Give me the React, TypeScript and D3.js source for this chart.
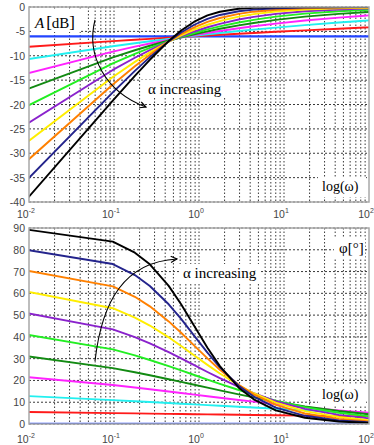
import React from 'react'
import * as d3 from 'd3'

// sample frequencies (rad/s) shared by every curve
const freq = [0.0088, 0.0968, 0.176, 0.264, 0.44, 0.616, 0.88, 1.257, 1.76, 2.933, 4.4, 8.0, 17.6, 44, 88, 100]

// magnitude A [dB], one array per alpha (0 .. 1)
const magA00 = [-6.02, -6.02, -6.02, -6.02, -6.02, -6.02, -6.02, -6.02, -6.02, -6.02, -6.02, -6.02, -6.02, -6.02, -6.02, -6.02]
const magA01 = [-8.22, -7.0, -6.72, -6.53, -6.3, -6.15, -5.99, -5.84, -5.7, -5.48, -5.32, -5.08, -4.79, -4.46, -4.22, -4.18]
const magA02 = [-10.82, -8.05, -7.43, -7.02, -6.54, -6.23, -5.91, -5.61, -5.34, -4.93, -4.63, -4.22, -3.71, -3.18, -2.82, -2.75]
const magA03 = [-13.79, -9.15, -8.14, -7.49, -6.73, -6.26, -5.78, -5.33, -4.92, -4.35, -3.95, -3.4, -2.76, -2.17, -1.79, -1.72]
const magA04 = [-17.08, -10.32, -8.87, -7.95, -6.88, -6.23, -5.59, -4.99, -4.47, -3.77, -3.28, -2.65, -1.98, -1.41, -1.08, -1.02]
const magA05 = [-20.61, -11.57, -9.62, -8.4, -6.99, -6.15, -5.33, -4.6, -3.98, -3.17, -2.63, -1.98, -1.36, -0.86, -0.61, -0.56]
const magA06 = [-24.33, -12.91, -10.41, -8.84, -7.06, -6.01, -5.02, -4.15, -3.45, -2.57, -2.02, -1.41, -0.87, -0.5, -0.33, -0.3]
const magA07 = [-28.16, -14.35, -11.25, -9.3, -7.09, -5.81, -4.64, -3.64, -2.88, -1.98, -1.46, -0.93, -0.52, -0.26, -0.16, -0.14]
const magA08 = [-32.07, -15.89, -12.14, -9.77, -7.08, -5.55, -4.18, -3.07, -2.26, -1.4, -0.96, -0.55, -0.27, -0.13, -0.07, -0.06]
const magA09 = [-36.02, -17.52, -13.11, -10.28, -7.05, -5.23, -3.64, -2.44, -1.63, -0.87, -0.53, -0.26, -0.11, -0.05, -0.02, -0.01]
const magA10 = [-40.0, -19.22, -14.15, -10.83, -6.99, -4.83, -3.01, -1.73, -0.97, -0.37, -0.17, -0.05, -0.01, 0, 0, 0]

// phase [deg]
const phA00 = [0, 0, 0, 0, 0, 0, 0, 0, 0, 0, 0, 0, 0, 0, 0, 0]
const phA01 = [5.52, 4.99, 4.86, 4.77, 4.65, 4.58, 4.5, 4.42, 4.35, 4.23, 4.14, 4.01, 3.83, 3.63, 3.48, 3.45]
const phA02 = [12.9, 10.97, 10.45, 10.09, 9.63, 9.32, 9.0, 8.68, 8.37, 7.91, 7.55, 7.03, 6.36, 5.62, 5.1, 5.0]
const phA03 = [21.68, 17.89, 16.75, 15.96, 14.92, 14.24, 13.5, 12.76, 12.08, 11.04, 10.25, 9.11, 7.72, 6.28, 5.32, 5.14]
const phA04 = [31.28, 25.68, 23.78, 22.39, 20.56, 19.33, 18.0, 16.67, 15.44, 13.61, 12.22, 10.32, 8.11, 6.0, 4.72, 4.48]
const phA05 = [41.22, 34.25, 31.49, 29.4, 26.57, 24.61, 22.5, 20.39, 18.43, 15.6, 13.51, 10.75, 7.77, 5.19, 3.78, 3.52]
const phA06 = [51.18, 43.46, 39.88, 37.0, 32.97, 30.11, 27.0, 23.89, 21.03, 17.0, 14.12, 10.54, 6.97, 4.2, 2.82, 2.57]
const phA07 = [61.0, 53.17, 48.87, 45.21, 39.8, 35.85, 31.5, 27.15, 23.2, 17.79, 14.13, 9.83, 5.92, 3.21, 2.0, 1.78]
const phA08 = [70.64, 63.22, 58.41, 54.02, 47.12, 41.88, 36.0, 30.12, 24.88, 17.98, 13.59, 8.78, 4.82, 2.34, 1.36, 1.18]
const phA09 = [80.11, 73.45, 68.39, 63.39, 54.97, 48.24, 40.5, 32.76, 26.03, 17.61, 12.61, 7.55, 3.77, 1.66, 0.89, 0.75]
const phA10 = [89.43, 83.72, 78.69, 73.3, 63.43, 55.01, 45.0, 34.99, 26.57, 16.7, 11.31, 6.28, 2.86, 1.15, 0.57, 0.46]

const colors = ['#2244ff', '#ff1a1a', '#22f0f0', '#ff22ff', '#128a12', '#22ee22', '#8a22cc', '#ffee00', '#ff8000', '#24248c', '#000000']
const magSeries = [magA00, magA01, magA02, magA03, magA04, magA05, magA06, magA07, magA08, magA09, magA10]
const phSeries = [phA00, phA01, phA02, phA03, phA04, phA05, phA06, phA07, phA08, phA09, phA10]

const magTicks = [0, -5, -10, -15, -20, -25, -30, -35, -40]
const phTicks = [0, 10, 20, 30, 40, 50, 60, 70, 80, 90]
const decadeExps = ['-2', '-1', '0', '1', '2']

const L = 29
const R = 369
const x = d3.scaleLog().domain([0.01, 100]).range([L, R])
const yMag = d3.scaleLinear().domain([-40, 0]).range([202, 7])
const yPh = d3.scaleLinear().domain([0, 90]).range([424, 228])

const minorFreqs: number[] = []
for (let e = -2; e < 2; e++) for (let m = 1; m < 10; m++) minorFreqs.push(m * Math.pow(10, e))

const tickFont = '"Liberation Sans", Arial, sans-serif'
const serif = '"Liberation Serif", "Times New Roman", serif'

function Panel({ id, y, ticks, series, labelY }: {
  id: string
  y: d3.ScaleLinear<number, number>
  ticks: number[]
  series: number[][]
  labelY: number
}) {
  const [b, t] = y.range()
  const line = d3.line<number>().x((_, i) => x(freq[i])).y(d => y(d))
  return (
    <g>
      <defs>
        <clipPath id={id}>
          <rect x={L} y={t} width={R - L} height={b - t} />
        </clipPath>
      </defs>
      <rect x={L} y={t} width={R - L} height={b - t} fill="#fff" />
      {minorFreqs.slice(1).map((f, i) => (
        <line key={'v' + i} x1={x(f)} x2={x(f)} y1={t} y2={b} stroke="#3a3a3a" strokeWidth={1} strokeDasharray="1.5,2" />
      ))}
      {ticks.map(v => (
        <line key={'h' + v} x1={L} x2={R} y1={y(v)} y2={y(v)} stroke="#3a3a3a" strokeWidth={1} strokeDasharray="2,2" />
      ))}
      <g clipPath={`url(#${id})`}>
        {series.map((s, k) => (
          <path key={k} d={line(s) || ''} fill="none" stroke={colors[k]} strokeWidth={k === 0 ? 2.4 : 1.9} strokeLinejoin="round" />
        ))}
      </g>
      <rect x={L} y={t} width={R - L} height={b - t} fill="none" stroke="#a8a8a8" strokeWidth={1.5} />
      {ticks.map(v => (
        <text key={'t' + v} x={25} y={y(v) + 4} textAnchor="end" fontSize={10.5} fontFamily={tickFont} fill="#454545">{v}</text>
      ))}
      {decadeExps.map(e => (
        <text key={'x' + e} x={x(Math.pow(10, +e)) - 3} y={labelY} textAnchor="middle" fontSize={10.5} fontFamily={tickFont} fill="#454545">
          10<tspan dy={-5} fontSize={7}>{e}</tspan>
        </text>
      ))}
    </g>
  )
}

export default function App() {
  return (
    <svg width={374} height={445} style={{ position: 'absolute', left: 0, top: 0, background: '#fff' }}>
      <defs>
        <marker id="arr" viewBox="0 0 10 10" refX={9} refY={5} markerWidth={7} markerHeight={7} orient="auto">
          <path d="M1,1 L9,5 L1,9" fill="none" stroke="#000" strokeWidth={1.5} />
        </marker>
      </defs>
      <Panel id="clipMag" y={yMag} ticks={magTicks} series={magSeries} labelY={218} />
      <Panel id="clipPh" y={yPh} ticks={phTicks} series={phSeries} labelY={443} />

      {/* top annotations */}
      <rect x={31} y={9} width={50} height={23} fill="#fff" />
      <text x={35} y={28} fontFamily={serif} fontSize={15} fill="#000">
        <tspan fontStyle="italic">A</tspan>
        <tspan dx={2} fontSize={17}>[</tspan>
        <tspan>dB</tspan>
        <tspan fontSize={17}>]</tspan>
      </text>
      <path d="M95,20 C86,55 105,92 146,107" fill="none" stroke="#000" strokeWidth={1.1} markerEnd="url(#arr)" />
      <rect x={141} y={80} width={89} height={18} fill="#fff" />
      <text x={148} y={94} fontFamily={serif} fontSize={15} fill="#000">α increasing</text>
      <rect x={318} y={177} width={48} height={20} fill="#fff" />
      <text x={322} y={191} fontFamily={serif} fontSize={14} fill="#000">log(ω)</text>

      {/* bottom annotations */}
      <path d="M95,361 C102,300 125,262 177,259" fill="none" stroke="#000" strokeWidth={1.1} markerEnd="url(#arr)" />
      <rect x={179} y={264} width={80} height={19} fill="#fff" />
      <text x={183} y={278} fontFamily={serif} fontSize={15} fill="#000">α increasing</text>
      <rect x={334} y={238} width={31} height={21} fill="#fff" />
      <text x={339} y={253} fontFamily={serif} fontSize={15} fill="#000">φ[°]</text>
      <rect x={318} y={385} width={48} height={20} fill="#fff" />
      <text x={322} y={399} fontFamily={serif} fontSize={14} fill="#000">log(ω)</text>
    </svg>
  )
}
